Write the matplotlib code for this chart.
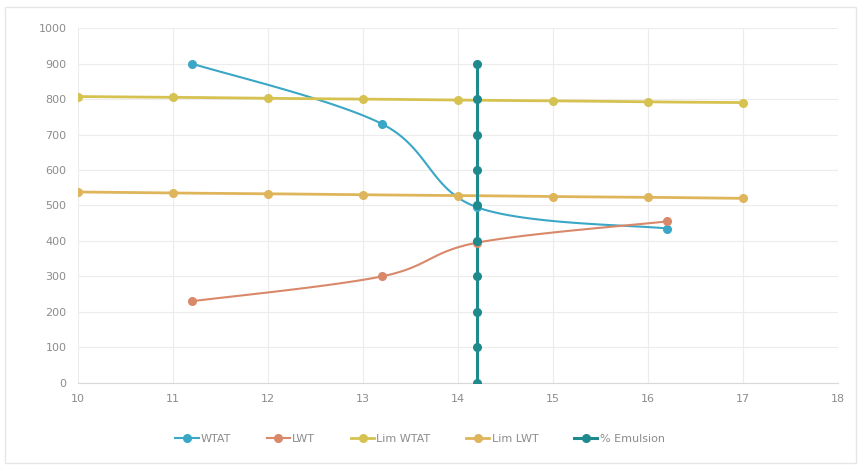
import numpy as np
import matplotlib.pyplot as plt

# data
wtat_x = [11.2, 13.2, 14.2, 16.2]
wtat_y = [900, 730, 495, 435]
lwt_x = [11.2, 13.2, 14.2, 16.2]
lwt_y = [230, 300, 395, 455]
lim_x = [10, 11, 12, 13, 14, 15, 16, 17]
lim_wtat_y = [807, 805, 802, 800, 797, 795, 792, 790]
lim_lwt_y = [538, 535, 533, 530, 528, 525, 523, 520]
emul_x = [14.2] * 10
emul_y = [0, 100, 200, 300, 400, 500, 600, 700, 800, 900]

x_ticks = [10, 11, 12, 13, 14, 15, 16, 17, 18]
y_ticks = [0, 100, 200, 300, 400, 500, 600, 700, 800, 900, 1000]

fig = plt.figure(figsize=(8.64, 4.68), dpi=100)
ax = fig.add_axes([0.09, 0.182, 0.88, 0.758])
ax.set_xlim(10, 18)
ax.set_ylim(0, 1000)

# size of one data unit in pixels, to smooth like Excel does on screen
sx = 0.88 * 864 / 8.0
sy = 0.758 * 468 / 1000.0


def smooth(xs, ys, n=40):
    p = np.column_stack([np.array(xs, float) * sx, np.array(ys, float) * sy])
    if len(p) < 3:
        return np.array(xs), np.array(ys)
    ext = np.vstack([p[0], p, p[-1]])
    out = []
    for i in range(len(p) - 1):
        p0, p1, p2, p3 = ext[i], ext[i + 1], ext[i + 2], ext[i + 3]
        c1 = p1 + (p2 - p0) / 6.0
        c2 = p2 - (p3 - p1) / 6.0
        t = np.linspace(0, 1, n)[:, None]
        seg = (1 - t) ** 3 * p1 + 3 * (1 - t) ** 2 * t * c1 + 3 * (1 - t) * t ** 2 * c2 + t ** 3 * p2
        out.append(seg)
    out = np.vstack(out)
    return out[:, 0] / sx, out[:, 1] / sy


series = [
    (wtat_x, wtat_y, '#3aa7c6', 'WTAT', 1.5),
    (lwt_x, lwt_y, '#d9886a', 'LWT', 1.5),
    (lim_x, lim_wtat_y, '#d6c250', 'Lim WTAT', 2.0),
    (lim_x, lim_lwt_y, '#dfb55c', 'Lim LWT', 2.0),
    (emul_x, emul_y, '#1e8a8e', '% Emulsion', 2.2),
]

for xs, ys, col, lab, lw in series:
    cx, cy = smooth(xs, ys)
    ax.plot(cx, cy, color=col, lw=lw, zorder=3)
    ax.plot(xs, ys, 'o', color=col, ms=5.5, zorder=4)
    ax.plot([], [], '-o', color=col, lw=lw, ms=5.5, label=lab)

ax.set_xticks(x_ticks)
ax.set_yticks(y_ticks)
ax.grid(True, color='#ececec', lw=0.8)
ax.set_axisbelow(True)
for s in ['top', 'right', 'left']:
    ax.spines[s].set_visible(False)
ax.spines['bottom'].set_color('#d9d9d9')
ax.tick_params(length=0, labelsize=8, colors='#8c8c8c', pad=8)

ax.legend(loc='upper center', bbox_to_anchor=(0.45, -0.115), ncol=5, frameon=False,
          fontsize=8, labelcolor='#8c8c8c', columnspacing=3.2, handlelength=2.1,
          handletextpad=0.2)

fig.patches.append(plt.Rectangle((0.006, 0.01), 0.985, 0.975, transform=fig.transFigure,
                                 fill=False, ec='#e6e6e6', lw=1))

fig.savefig('out.png', dpi=100)
